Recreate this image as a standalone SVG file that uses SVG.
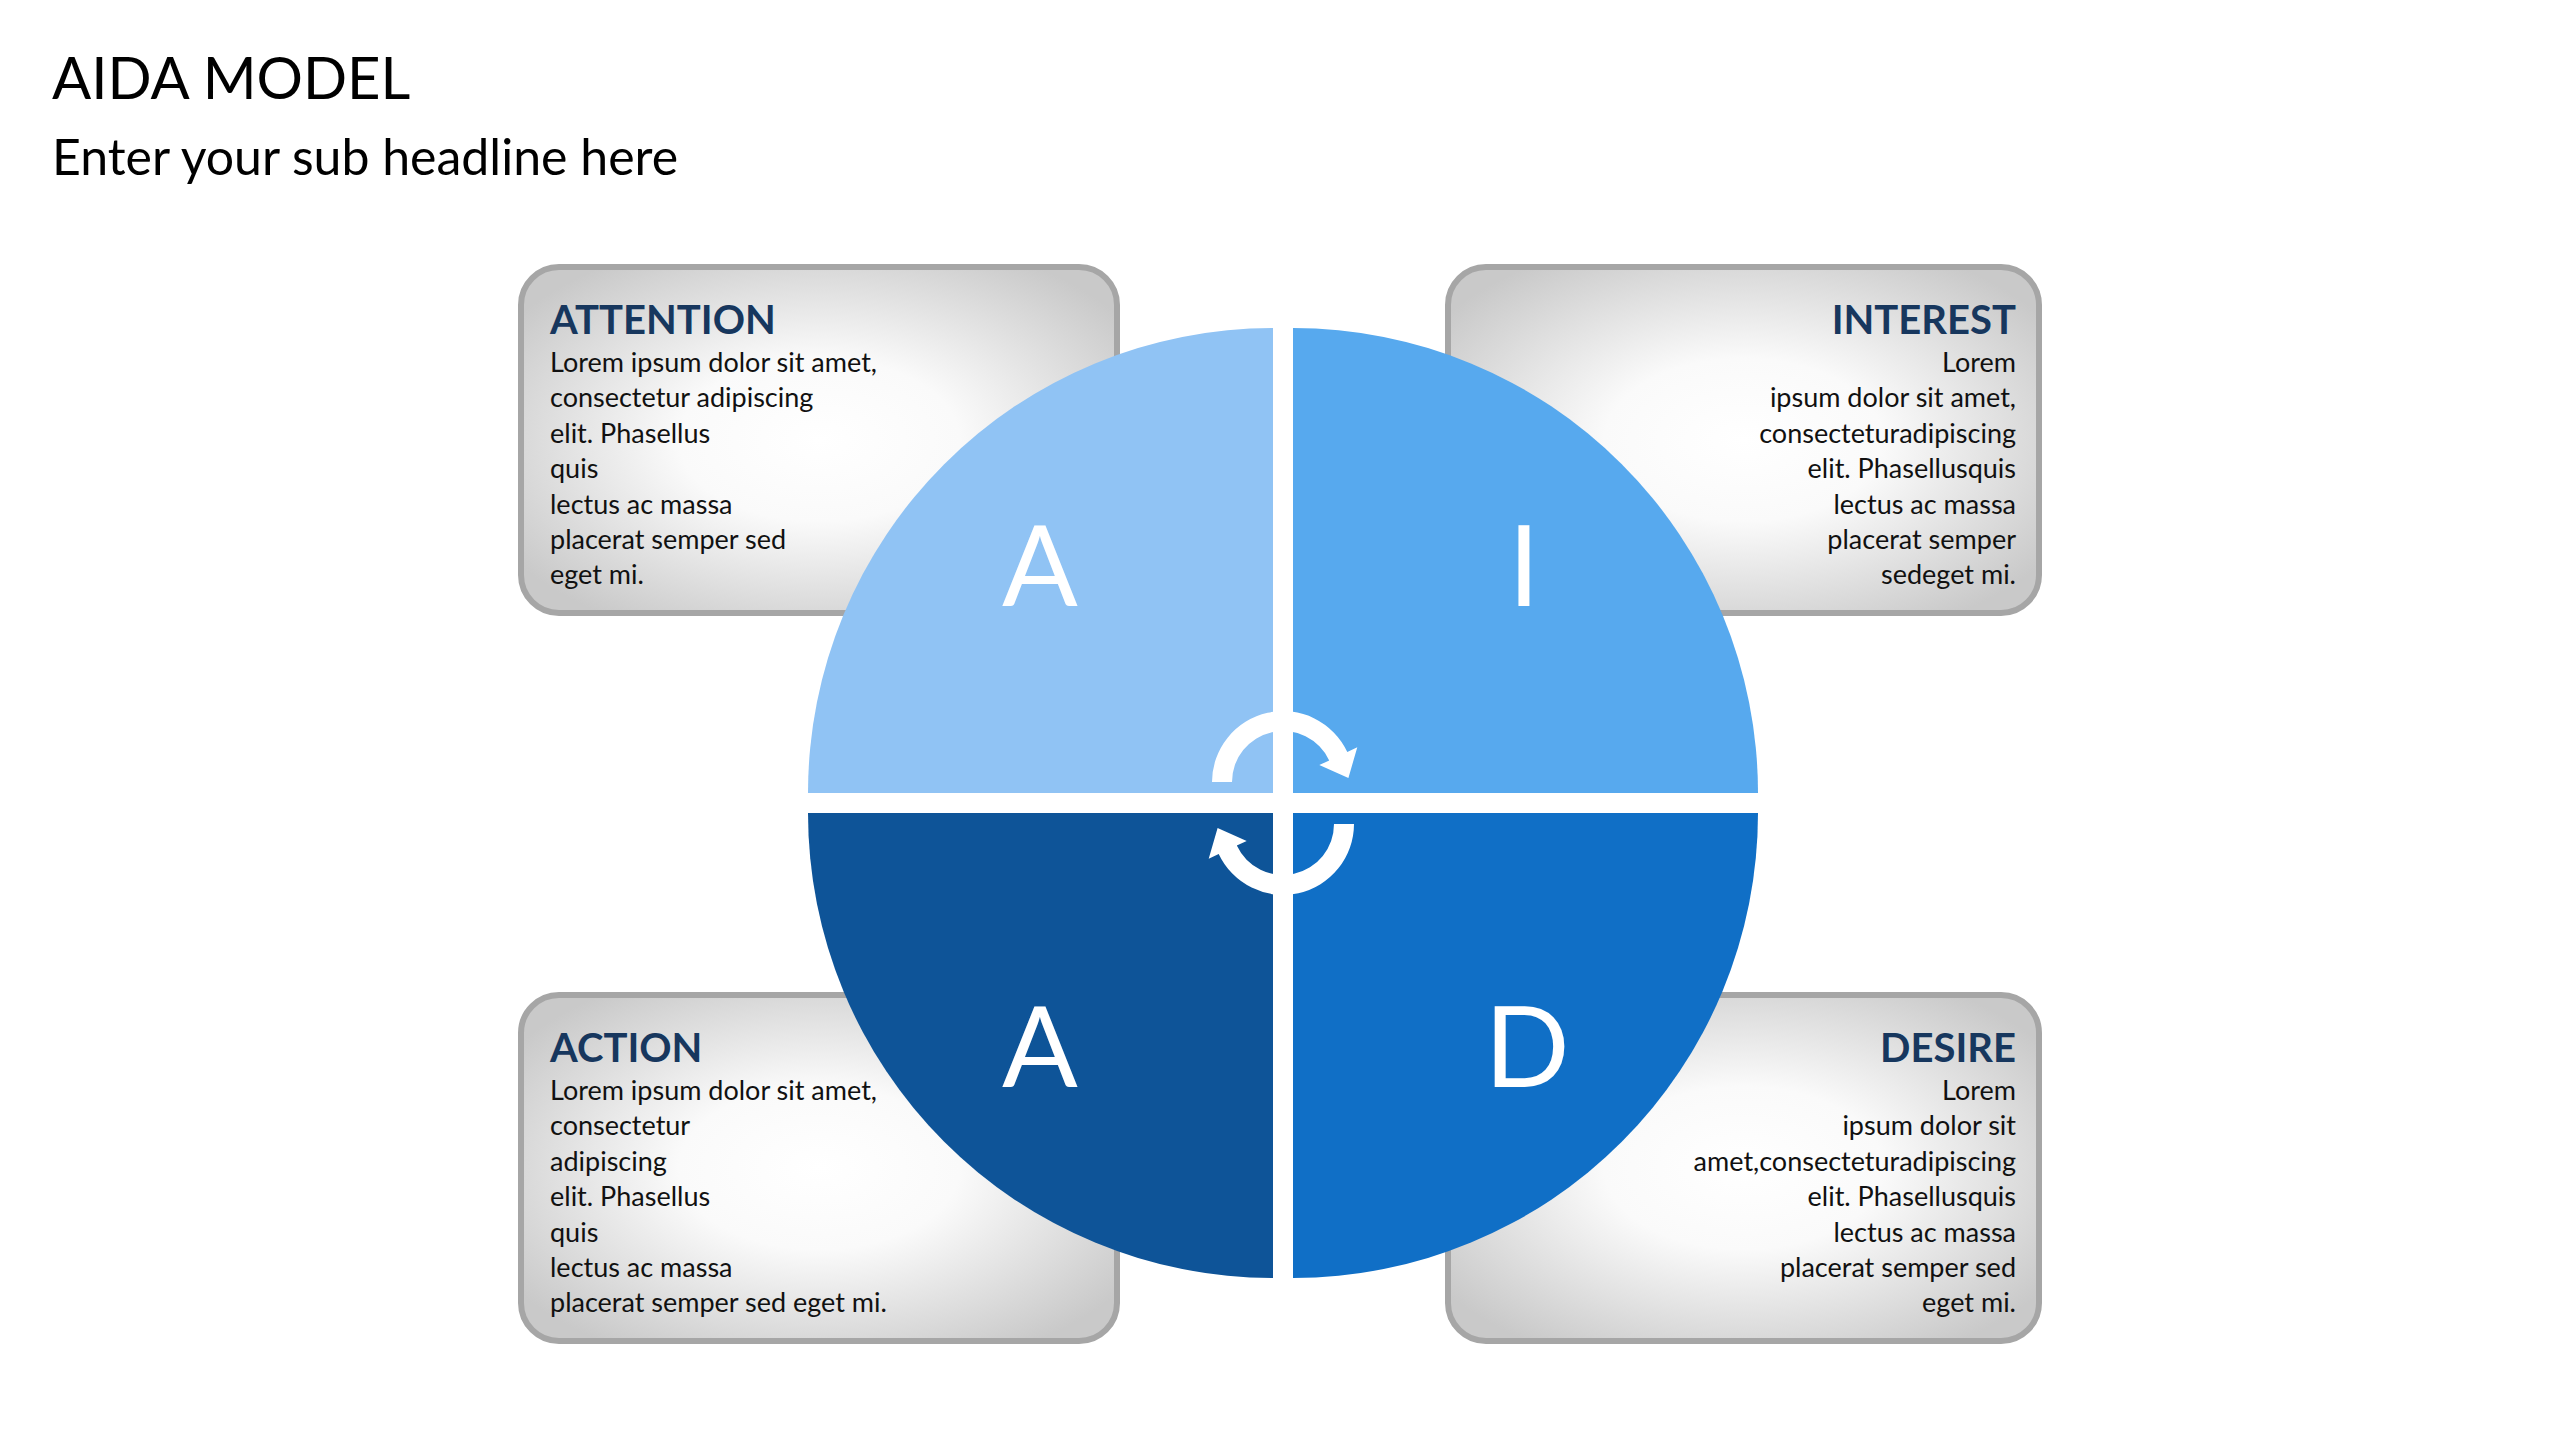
<svg xmlns="http://www.w3.org/2000/svg" width="2560" height="1440" viewBox="0 0 2560 1440">
<defs>
<radialGradient id="boxg" cx="0.5" cy="0.5" r="0.62">
<stop offset="0" stop-color="#ffffff"/>
<stop offset="0.38" stop-color="#fafafa"/>
<stop offset="1" stop-color="#c9c9c9"/>
</radialGradient>
<style>
.box{fill:url(#boxg);stroke:#a6a6a6;stroke-width:6}
.head{font-family:Lato,"Open Sans",sans-serif;font-weight:bold;font-size:40px;fill:#17375e}
.body{font-family:Lato,"Open Sans",sans-serif;font-size:27px;fill:#111111}
.big{font-family:Lato,"Open Sans",sans-serif;font-size:112px;fill:#ffffff;text-anchor:middle}
.r{text-anchor:end}
</style>
</defs>
<rect width="2560" height="1440" fill="#ffffff"/>
<text x="52" y="99" font-family="Lato,'Open Sans',sans-serif" font-size="58" fill="#000">AIDA MODEL</text>
<text x="52" y="175" font-family="Lato,'Open Sans',sans-serif" font-size="50" fill="#000">Enter your sub headline here</text>

<g id="attention">
<rect class="box" x="521" y="267" width="596" height="346" rx="38"/>
<text class="head" x="550" y="334">ATTENTION</text>
<text class="body" x="550" y="372">Lorem ipsum dolor sit amet,</text>
<text class="body" x="550" y="407.4">consectetur adipiscing</text>
<text class="body" x="550" y="442.8">elit. Phasellus</text>
<text class="body" x="550" y="478.2">quis</text>
<text class="body" x="550" y="513.6">lectus ac massa</text>
<text class="body" x="550" y="549">placerat semper sed</text>
<text class="body" x="550" y="584.4">eget mi.</text>
</g>
<g id="interest">
<rect class="box" x="1448" y="267" width="591" height="346" rx="38"/>
<text class="head r" x="2016" y="334">INTEREST</text>
<text class="body r" x="2016" y="372">Lorem</text>
<text class="body r" x="2016" y="407.4">ipsum dolor sit amet,</text>
<text class="body r" x="2016" y="442.8">consecteturadipiscing</text>
<text class="body r" x="2016" y="478.2">elit. Phasellusquis</text>
<text class="body r" x="2016" y="513.6">lectus ac massa</text>
<text class="body r" x="2016" y="549">placerat semper</text>
<text class="body r" x="2016" y="584.4">sedeget mi.</text>
</g>
<g id="action">
<rect class="box" x="521" y="995" width="596" height="346" rx="38"/>
<text class="head" x="550" y="1062">ACTION</text>
<text class="body" x="550" y="1100">Lorem ipsum dolor sit amet,</text>
<text class="body" x="550" y="1135.4">consectetur</text>
<text class="body" x="550" y="1170.8">adipiscing</text>
<text class="body" x="550" y="1206.2">elit. Phasellus</text>
<text class="body" x="550" y="1241.6">quis</text>
<text class="body" x="550" y="1277">lectus ac massa</text>
<text class="body" x="550" y="1312.4">placerat semper sed eget mi.</text>
</g>
<g id="desire">
<rect class="box" x="1448" y="995" width="591" height="346" rx="38"/>
<text class="head r" x="2016" y="1062">DESIRE</text>
<text class="body r" x="2016" y="1100">Lorem</text>
<text class="body r" x="2016" y="1135.4">ipsum dolor sit</text>
<text class="body r" x="2016" y="1170.8">amet,consecteturadipiscing</text>
<text class="body r" x="2016" y="1206.2">elit. Phasellusquis</text>
<text class="body r" x="2016" y="1241.6">lectus ac massa</text>
<text class="body r" x="2016" y="1277">placerat semper sed</text>
<text class="body r" x="2016" y="1312.4">eget mi.</text>
</g>

<g id="quadrant-a1">
<path d="M1273,793 L808,793 A465,465 0 0 1 1273,328 Z" fill="#90c3f4"/>
<text class="big" x="1040" y="606">A</text>
</g>
<g id="quadrant-i">
<path d="M1293,793 L1293,328 A465,465 0 0 1 1758,793 Z" fill="#57a9ee"/>
<text class="big" x="1524" y="606">I</text>
</g>
<g id="quadrant-d">
<path d="M1293,813 L1758,813 A465,465 0 0 1 1293,1278 Z" fill="#106fc6"/>
<text class="big" x="1527" y="1087">D</text>
</g>
<g id="quadrant-a2">
<path d="M1273,813 L1273,1278 A465,465 0 0 1 808,813 Z" fill="#0e5498"/>
<text class="big" x="1040" y="1087">A</text>
</g>

<g id="connectors" fill="#ffffff">
<path id="arrow-top" d="M1212,782 A71,71 0 0 1 1347.3,752 L1357.3,747.3 L1348.4,777.9 L1319.3,765.1 L1329.2,760.4 A51,51 0 0 0 1232,782 Z"/>
<path id="arrow-bottom" transform="rotate(180 1283 803)" d="M1212,782 A71,71 0 0 1 1347.3,752 L1357.3,747.3 L1348.4,777.9 L1319.3,765.1 L1329.2,760.4 A51,51 0 0 0 1232,782 Z"/>
</g>
</svg>
